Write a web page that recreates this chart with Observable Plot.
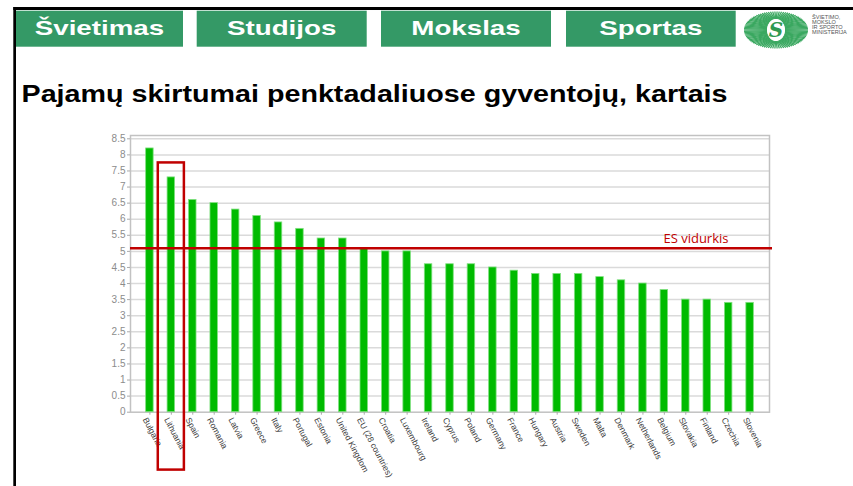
<!DOCTYPE html>
<html><head><meta charset="utf-8">
<script src="https://cdn.jsdelivr.net/npm/d3@7"></script>
<script src="https://cdn.jsdelivr.net/npm/@observablehq/plot@0.6"></script>
<style>
html,body{margin:0;padding:0;background:#fff;width:853px;height:486px;overflow:hidden;position:relative;}
#deco{position:absolute;left:0;top:0;}
#chart{position:absolute;left:0;top:125px;}
</style></head><body>
<svg id="deco" width="853" height="486"></svg>
<div id="chart"></div>
<script>
// ---- content ----
const tabs = ["Švietimas", "Studijos", "Mokslas", "Sportas"];
const title = "Pajamų skirtumai penktadaliuose gyventojų, kartais";
const logoLines = ["ŠVIETIMO,", "MOKSLO", "IR SPORTO", "MINISTERIJA"];

const countries = ["Bulgaria", "Lithuania", "Spain", "Romania", "Latvia", "Greece", "Italy", "Portugal",
  "Estonia", "United Kingdom", "EU (28 countries)", "Croatia", "Luxembourg", "Ireland", "Cyprus", "Poland",
  "Germany", "France", "Hungary", "Austria", "Sweden", "Malta", "Denmark", "Netherlands", "Belgium",
  "Slovakia", "Finland", "Czechia", "Slovenia"];
const values = [8.2, 7.3, 6.6, 6.5, 6.3, 6.1, 5.9, 5.7, 5.4, 5.4, 5.1, 5.0, 5.0, 4.6, 4.6, 4.6,
  4.5, 4.4, 4.3, 4.3, 4.3, 4.2, 4.1, 4.0, 3.8, 3.5, 3.5, 3.4, 3.4];
const euAverage = 5.1;
const euLabel = "ES vidurkis";
const highlighted = "Lithuania";
const highlightTop = 7.75;
const highlightBottom = -1.8;
const yTicks = [0, 0.5, 1, 1.5, 2, 2.5, 3, 3.5, 4, 4.5, 5, 5.5, 6, 6.5, 7, 7.5, 8, 8.5];

// ---- decoration (header, title, logo) ----
const deco = d3.select("#deco");
const FONT = "'Liberation Sans', Arial, sans-serif";
deco.append("rect").attr("x", 13.3).attr("y", 7).attr("width", 840).attr("height", 3).attr("fill", "#000");
deco.append("rect").attr("x", 13.3).attr("y", 7).attr("width", 2.7).attr("height", 479).attr("fill", "#000");
const tabBoxes = [[16, 183], [196.7, 366.7], [381, 551], [566, 735.7]];
tabs.forEach((t, i) => {
  const [x0, x1] = tabBoxes[i];
  deco.append("rect").attr("x", x0).attr("y", 10.7).attr("width", x1 - x0).attr("height", 36).attr("fill", "#349966");
  const tx = deco.append("text").attr("x", (x0 + x1) / 2).attr("y", 34.7)
    .attr("text-anchor", "middle").attr("fill", "#fff").attr("font-family", FONT)
    .attr("font-weight", "bold").attr("font-size", 21).text(t);
  const len = tx.node().getComputedTextLength();
  tx.attr("textLength", len * 1.32).attr("lengthAdjust", "spacingAndGlyphs");
});
deco.append("text").attr("x", 21.5).attr("y", 101.7).attr("fill", "#000").attr("font-family", FONT)
  .attr("font-weight", "bold").attr("font-size", 23.3).attr("textLength", 706)
  .attr("lengthAdjust", "spacingAndGlyphs").text(title);

// logo emblem
const cx = 776, cy = 30, rxo = 32, ryo = 18.5, rxi = 9, ryi = 11;
const logo = deco.append("g");
d3.range(0, 360, 4).forEach(a => {
  const r = a * Math.PI / 180;
  logo.append("line")
    .attr("x1", cx + rxi * Math.cos(r)).attr("y1", cy + ryi * Math.sin(r))
    .attr("x2", cx + rxo * Math.cos(r)).attr("y2", cy + ryo * Math.sin(r))
    .attr("stroke", "#3aa860").attr("stroke-width", 1.3);
});
logo.append("ellipse").attr("cx", cx).attr("cy", cy).attr("rx", rxi).attr("ry", ryi).attr("fill", "#fff");
logo.append("text").attr("x", cx).attr("y", cy + 7).attr("text-anchor", "middle")
  .attr("font-family", "'DejaVu Serif', serif").attr("font-style", "italic").attr("font-weight", "bold")
  .attr("font-size", 20).attr("fill", "#2f9a52").text("S");
logoLines.forEach((l, i) => {
  deco.append("text").attr("x", 812).attr("y", 19 + i * 5.15).attr("font-family", FONT)
    .attr("font-size", 5.6).attr("fill", "#555").text(l);
});

// ---- chart ----
const data = countries.map((c, i) => ({country: c, value: values[i]}));
const chart = Plot.plot({
  width: 853,
  height: 361,
  marginLeft: 130,
  marginRight: 84,
  marginTop: 10,
  marginBottom: 74.3,
  style: {fontFamily: FONT, background: "transparent", overflow: "visible"},
  x: {domain: countries, paddingInner: 0.65, paddingOuter: 0.73, round: false, label: null},
  y: {domain: [0, 8.5], insetTop: 3.3, label: null},
  marks: [
    Plot.gridY(yTicks.filter(d => d > 0), {stroke: "#dadada", strokeOpacity: 1, strokeWidth: 1.5}),
    Plot.frame({stroke: "#c2c2c2", strokeWidth: 1.5}),
    Plot.barY(data, {x: "country", y: "value", fill: "#00bb00", stroke: "#80e080", strokeWidth: 0.8}),
    Plot.axisY({ticks: yTicks, tickFormat: d => String(d), tickSize: 3, tickPadding: 2,
      fontSize: 10, fill: "#8c8c8c", stroke: "#aaaaaa"}),
    Plot.axisX({tickSize: 3, stroke: "#aaaaaa", text: null}),
    Plot.axisX({tickRotate: 62, tickSize: 0, tickPadding: 6, dx: -5, fontSize: 8.5, fill: "#3a3a3a"}),
    Plot.ruleY([euAverage], {stroke: "#c00000", strokeWidth: 2.5, insetRight: -3}),
    Plot.text([euAverage], {y: d => d, text: () => euLabel, frameAnchor: "right", textAnchor: "end",
      lineAnchor: "bottom", dx: -41, dy: -5, fill: "#c00000", fontSize: 13,
      fontFamily: "'Open Sans', 'Noto Sans', sans-serif"}),
    Plot.barY([highlighted], {x: d => d, y1: highlightBottom, y2: highlightTop, fill: "none",
      stroke: "#c00000", strokeWidth: 2.5, insetLeft: -9.3, insetRight: -9.3, clip: false})
  ]
});
document.getElementById("chart").appendChild(chart);
</script>
</body></html>
